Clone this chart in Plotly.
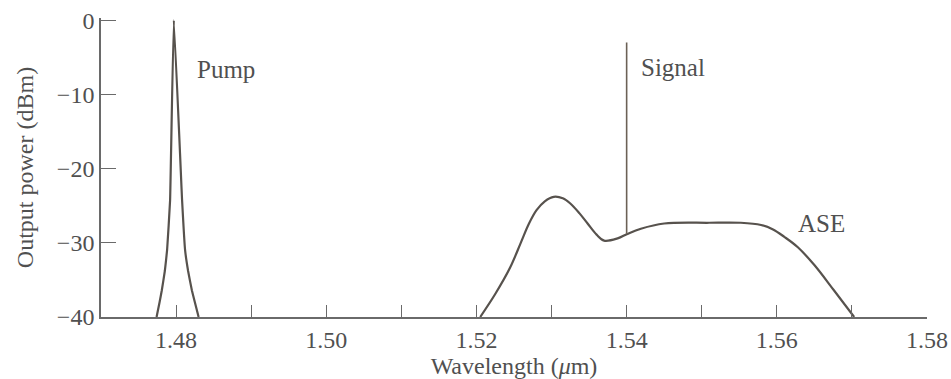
import plotly.graph_objects as go

# Pump line near 1.48 um
pump_wl = [1.4774, 1.4778, 1.4781, 1.4785, 1.4788, 1.4792, 1.4797,
           1.4808, 1.4812, 1.4816, 1.4821, 1.4825, 1.4830]
pump_dbm = [-40.0, -38.0, -36.4, -33.8, -31.0, -24.3, 0.0,
            -24.3, -31.0, -33.8, -36.4, -38.0, -40.0]

# Amplified spontaneous emission spectrum
ase_wl = [1.5205, 1.5225, 1.5245, 1.5259, 1.5270, 1.5280, 1.5291, 1.5303,
          1.5315, 1.5325, 1.5337, 1.5348, 1.5360, 1.5370, 1.5388, 1.5401,
          1.5419, 1.5450, 1.5510, 1.5552, 1.5579, 1.5595, 1.5610, 1.5628,
          1.5650, 1.5676, 1.5703]
ase_dbm = [-40.0, -36.9, -33.3, -30.0, -27.4, -25.6, -24.4, -23.8,
           -24.0, -24.7, -26.0, -27.4, -28.9, -29.7, -29.4, -28.8,
           -28.1, -27.4, -27.3, -27.3, -27.6, -28.2, -29.2, -30.6,
           -33.0, -36.4, -40.0]

# Signal line at 1.54 um
signal_wl = 1.54
signal_base_dbm = -28.8
signal_peak_dbm = -3.0

x_tickvals = [1.48, 1.49, 1.50, 1.51, 1.52, 1.53, 1.54, 1.55, 1.56, 1.57, 1.58]
x_ticktext = ["1.48", "", "1.50", "", "1.52", "", "1.54", "", "1.56", "", "1.58"]
y_tickvals = [0, -10, -20, -30, -40]

line_color = "#57524d"
text_color = "#505050"
font_family = "Liberation Serif"
font_size = 24

fig = go.Figure()
fig.add_trace(go.Scatter(x=pump_wl, y=pump_dbm, mode="lines",
                         line=dict(color=line_color, width=2.2, shape="spline", smoothing=0.3),
                         hoverinfo="skip"))
fig.add_trace(go.Scatter(x=ase_wl, y=ase_dbm, mode="lines",
                         line=dict(color=line_color, width=2.2, shape="spline", smoothing=1.0),
                         hoverinfo="skip"))
fig.add_trace(go.Scatter(x=[signal_wl, signal_wl], y=[signal_base_dbm, signal_peak_dbm],
                         mode="lines", line=dict(color="#6b6156", width=1.6),
                         hoverinfo="skip"))

labels = [("Pump", 1.4825, -6.7), ("Signal", 1.5416, -6.4), ("ASE", 1.5625, -27.4)]
for txt, lx, ly in labels:
    fig.add_annotation(x=lx, y=ly, text=txt, showarrow=False, xanchor="left",
                       yanchor="middle", font=dict(family=font_family, size=25, color=text_color))

axis_common = dict(showgrid=False, zeroline=False, showline=True, linecolor="#6a6a6a",
                   linewidth=1.6, ticks="inside", tickcolor="#6a6a6a", tickwidth=1.3,
                   automargin=False,
                   tickfont=dict(family=font_family, size=font_size, color=text_color))

fig.update_layout(
    width=951, height=379,
    margin=dict(l=101, r=24, t=18, b=62),
    paper_bgcolor="white", plot_bgcolor="white",
    showlegend=False,
    xaxis=dict(range=[1.47, 1.58], tickvals=x_tickvals, ticktext=x_ticktext, ticklen=12,
               title=dict(text="Wavelength (<i>μ</i>m)", standoff=3,
                          font=dict(family=font_family, size=font_size, color=text_color)),
               **axis_common),
    yaxis=dict(range=[-40, 0.3], tickvals=y_tickvals, ticklen=15,
               title=dict(text="Output power (dBm)", standoff=16,
                          font=dict(family=font_family, size=font_size, color=text_color)),
               **axis_common),
)

fig.write_html("out.html")
